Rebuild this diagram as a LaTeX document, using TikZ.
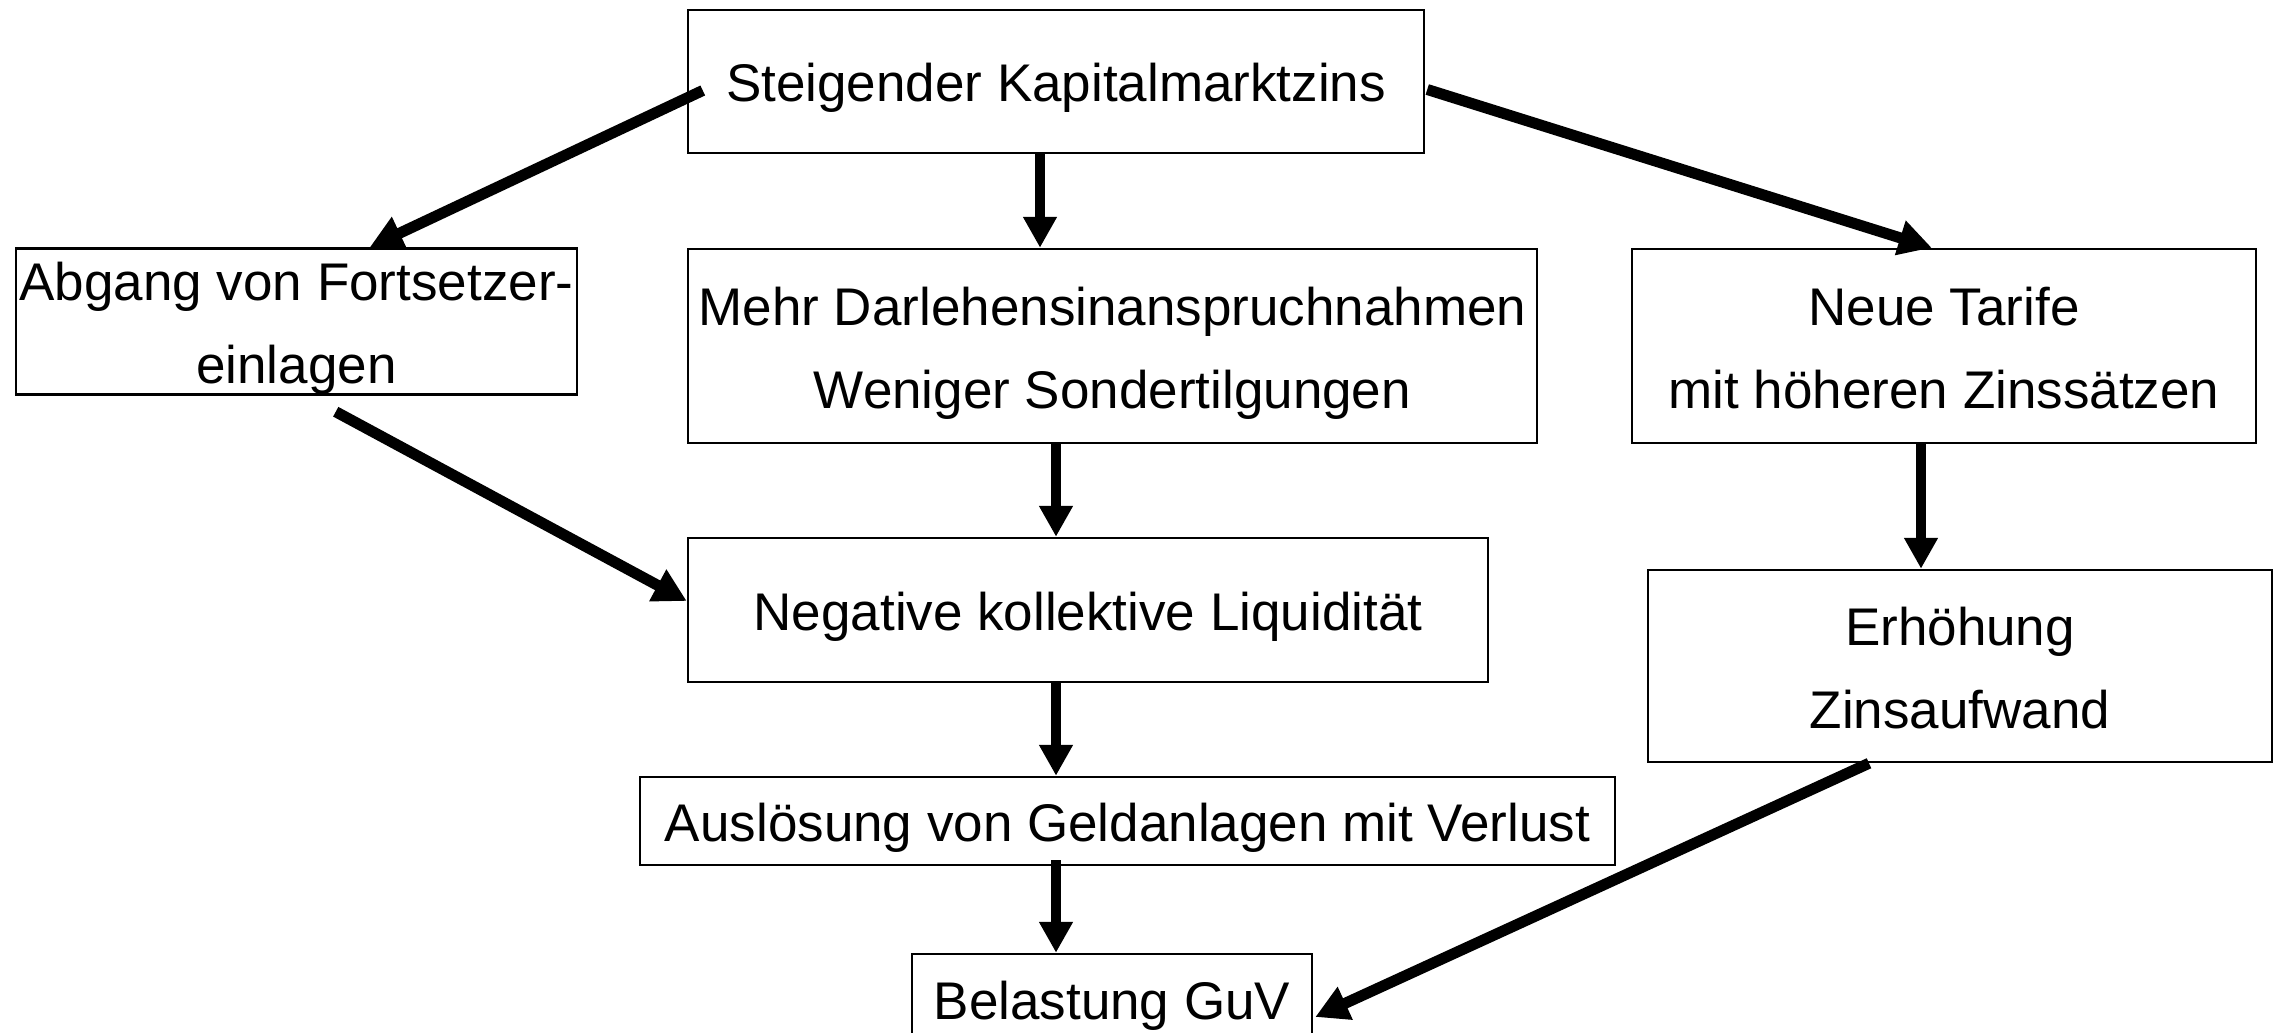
\documentclass[tikz,border=0pt]{standalone}
\usepackage{fontspec}
\setmainfont{Liberation Sans}
\usetikzlibrary{arrows.meta,calc}
\newcommand\lnstrut{\rule[-11pt]{0pt}{63pt}}
\tikzset{
  box/.style={draw, line width=2.5pt, inner sep=0pt, align=center,
    font=\fontsize{53}{83}\selectfont},
  arr/.style={line width=10pt, -{Triangle[length=31pt,width=32pt]}},
  darr/.style={line width=11pt, -{Triangle[length=33pt,width=34pt]}}
}
\begin{document}
\begin{tikzpicture}[x=1pt,y=-1pt]
\useasboundingbox (0,0) rectangle (2276,1033);
\clip (0,0) rectangle (2276,1033);
\node[box, minimum width=736pt, minimum height=143pt] (top) at (1056,81.5) {\lnstrut Steigender Kapitalmarktzins};
\node[box, minimum width=561pt, minimum height=145pt] (abg) at (296.5,321.5) {\lnstrut Abgang von Fortsetzer-\\\lnstrut einlagen};
\node[box, minimum width=849pt, minimum height=194pt] (mehr) at (1112.5,346) {\lnstrut Mehr Darlehensinanspruchnahmen\\\lnstrut Weniger Sondertilgungen};
\node[box, minimum width=624pt, minimum height=194pt] (neue) at (1944,346) {\lnstrut Neue Tarife\\\lnstrut mit höheren Zinssätzen};
\node[box, minimum width=800pt, minimum height=144pt] (neg) at (1088,610) {\lnstrut Negative kollektive Liquidität};
\node[box, minimum width=624pt, minimum height=192pt] (erh) at (1960,666) {\lnstrut Erhöhung\\\lnstrut Zinsaufwand};
\node[box, minimum width=975pt, minimum height=88pt] (ausl) at (1127.5,821) {\lnstrut Auslösung von Geldanlagen mit Verlust};
\node[box, minimum width=400pt, minimum height=90pt] (bel) at (1112,999) {\lnstrut Belastung GuV};

\coordinate (s1) at ($(top.south)+(-16,0)$);
\coordinate (s2) at ($(mehr.south)+(-56.5,0)$);
\coordinate (s3) at ($(neg.south)+(-32,0)$);
\coordinate (s4) at ($(ausl.south)+(-71.5,-6)$);
\coordinate (s5) at ($(neue.south)+(-23,0)$);

\draw[darr] ($(top.west)+(16,9)$) -- ($(abg.north west)+(355,0)$);
\draw[arr] (s1) -- (s1 |- mehr.north);
\draw[darr] ($(top.east)+(2,8)$) -- ($(neue.north west)+(301,0)$);
\draw[arr] (s2) -- (s2 |- neg.north);
\draw[darr] ($(abg.south west)+(321,16)$) -- ($(neg.west)+(0,-9)$);
\draw[arr] (s3) -- (s3 |- ausl.north);
\draw[arr] (s4) -- (s4 |- bel.north);
\draw[arr] (s5) -- (s5 |- erh.north);
\draw[darr] ($(erh.south)+(-91,0)$) -- ($(bel.east)+(2,18)$);
\end{tikzpicture}
\end{document}
